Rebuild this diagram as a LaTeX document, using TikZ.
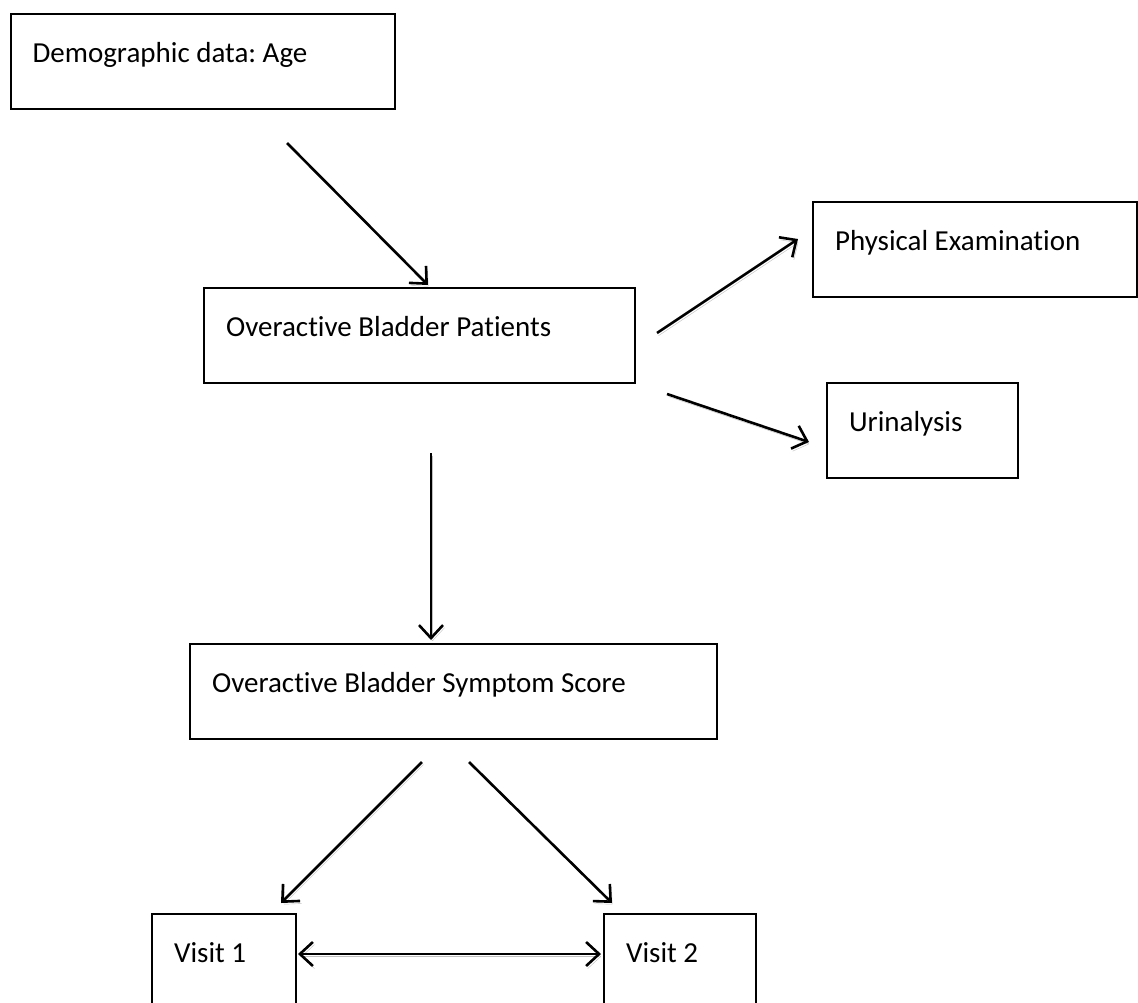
\documentclass[tikz,border=0pt]{standalone}
\usepackage{fontspec}
\setmainfont{Carlito}[Ligatures=NoCommon]
\frenchspacing
\usetikzlibrary{arrows.meta}
\tikzset{
  box/.style={draw=black, line width=2.2pt, anchor=north west, inner xsep=22pt, inner ysep=0pt,
    text height=48pt, text depth=47pt, align=flush left, font=\fontsize{29}{35}\selectfont},
  arr/.style={line width=2.6pt, -{Straight Barb[length=13pt,width=24pt]},
    preaction={draw=black!25, transform canvas={shift={(1.6pt,-2.6pt)}}}},
  biarr/.style={line width=2.6pt, {Straight Barb[length=13pt,width=24pt]}-{Straight Barb[length=13pt,width=24pt]},
    preaction={draw=black!25, transform canvas={shift={(1.6pt,-2.6pt)}}}}
}
\begin{document}
\begin{tikzpicture}[x=1pt,y=-1pt]
\useasboundingbox (0,0) rectangle (1138,1002);
\clip (0,0) rectangle (1138,1002);
\node[box, text width=340pt] (demo) at (9.5,13) {Demographic data: Age};
\node[box, text width=387pt] (obp) at (203,287) {Overactive Bladder Patients};
\node[box, text width=280pt] (phys) at (812,201) {Physical Examination};
\node[box, text width=147pt] (uri) at (826,382) {Urinalysis};
\node[box, text width=483pt] (sym) at (189,643) {Overactive Bladder Symptom Score};
\node[box, text width=100pt, text depth=60pt] (v1) at (151,913) {Visit 1};
\node[box, text width=108pt, text depth=60pt] (v2) at (603,913) {Visit 2};
\coordinate (a1s) at (287,143); \coordinate (a1e) at (428,285);
\coordinate (a2s) at (657,333); \coordinate (a2e) at (798,239);
\coordinate (a3s) at (667,394); \coordinate (a3e) at (809,442);
\coordinate (a4s) at (431,453); \coordinate (a4e) at (431,640);
\coordinate (a5s) at (422,762); \coordinate (a5e) at (281,903);
\coordinate (a6s) at (469,762); \coordinate (a6e) at (612,903);
\coordinate (a7s) at (298,954); \coordinate (a7e) at (601,954);
\draw[arr] (a1s) -- (a1e);
\draw[arr] (a2s) -- (a2e);
\draw[arr] (a3s) -- (a3e);
\draw[arr] (a4s) -- (a4e);
\draw[arr] (a5s) -- (a5e);
\draw[arr] (a6s) -- (a6e);
\draw[biarr] (a7s) -- (a7e);
\end{tikzpicture}
\end{document}
